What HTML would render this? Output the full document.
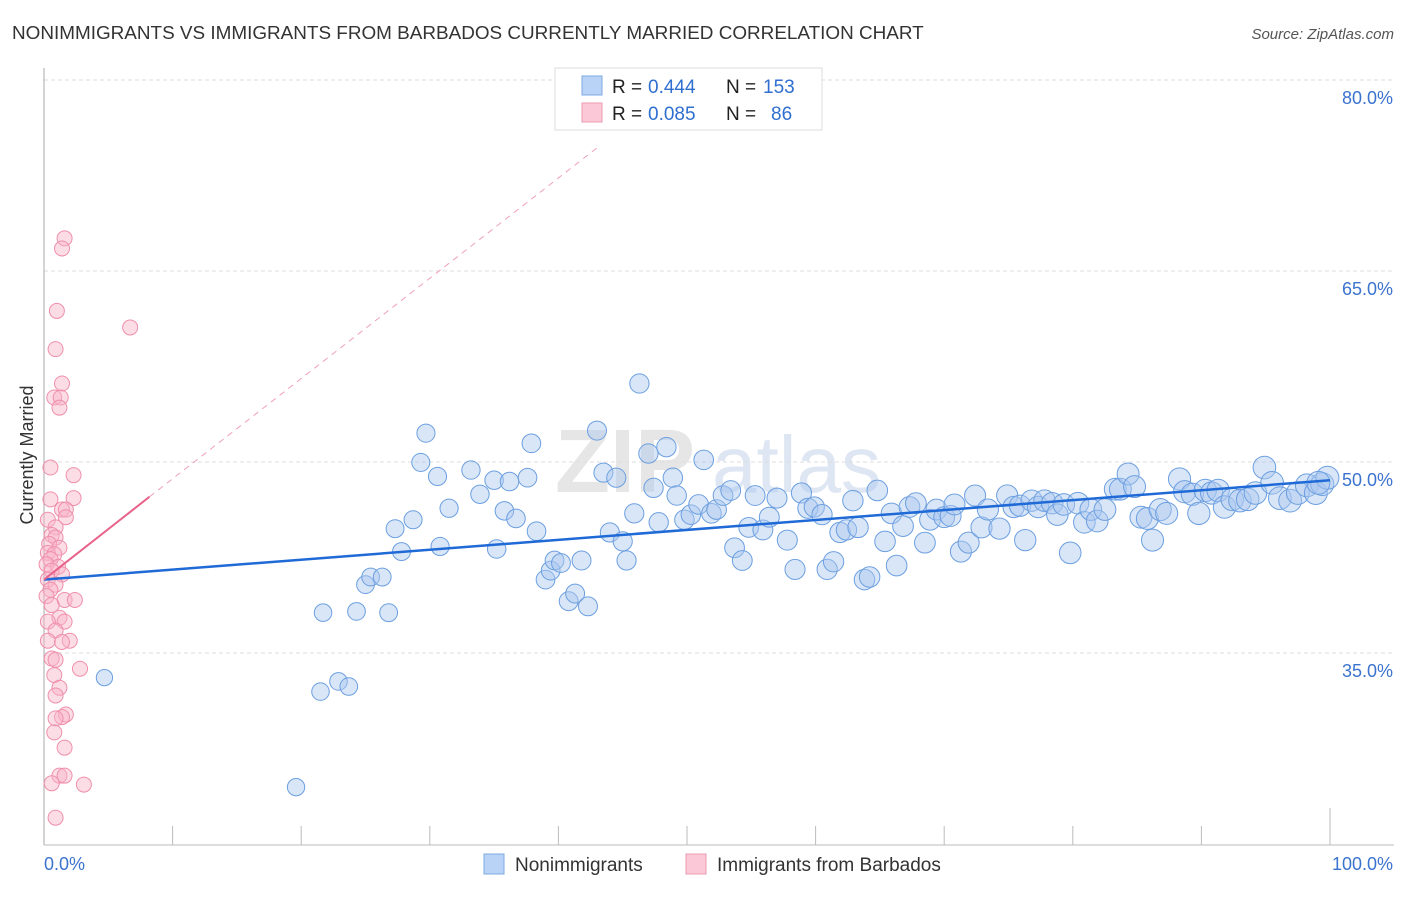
<!DOCTYPE html>
<html><head><meta charset="utf-8"><style>
body{margin:0;background:#fff;font-family:"Liberation Sans",sans-serif}
svg text{font-family:"Liberation Sans",sans-serif}
</style></head><body>
<svg width="1406" height="892">
<text x="12" y="39" font-size="18.9" fill="#333">NONIMMIGRANTS VS IMMIGRANTS FROM BARBADOS CURRENTLY MARRIED CORRELATION CHART</text>
<text x="1394" y="39" font-size="15" fill="#555" text-anchor="end" font-style="italic">Source: ZipAtlas.com</text>
<text x="555" y="492" font-size="90" fill="#e6e6e6" font-family="Liberation Serif" font-weight="bold">ZIP</text>
<text x="712" y="492" font-size="80" fill="#dde6f2">atlas</text>
<g id="grid"></g>
<g id="axes"></g>
<g id="pink"></g>
<g id="blue"></g>
<g id="lines"></g>
<text x="33" y="455" font-size="18" fill="#333" transform="rotate(-90 33 455)" text-anchor="middle">Currently Married</text>
<g>
<rect x="555" y="68" width="267" height="62" fill="#fff" stroke="#ddd"/>
<rect x="582" y="76" width="20" height="19" fill="#b8d3f5" stroke="#7ea9e2"/>
<rect x="582" y="103" width="20" height="19" fill="#fac8d6" stroke="#ee9ab2"/>
<text x="612" y="93" font-size="19" fill="#222">R =</text>
<text x="648" y="93" font-size="19" fill="#2f6fd0">0.444</text>
<text x="726" y="93" font-size="19" fill="#222">N =</text>
<text x="763" y="93" font-size="19" fill="#2f6fd0">153</text>
<text x="612" y="120" font-size="19" fill="#222">R =</text>
<text x="648" y="120" font-size="19" fill="#2f6fd0">0.085</text>
<text x="726" y="120" font-size="19" fill="#222">N =</text>
<text x="771" y="120" font-size="19" fill="#2f6fd0">86</text>
</g>
<g>
<rect x="484" y="854" width="20" height="20" fill="#b8d3f5" stroke="#7ea9e2"/>
<text x="515" y="871" font-size="19" fill="#333">Nonimmigrants</text>
<rect x="686" y="854" width="20" height="20" fill="#fac8d6" stroke="#ee9ab2"/>
<text x="717" y="871" font-size="19" fill="#333">Immigrants from Barbados</text>
</g>
</svg>
<script>
const yTicks=[80,65,50,35];
const yTickLabels=["80.0%","65.0%","50.0%","35.0%"];
const xTicks=[0,10,20,30,40,50,60,70,80,90,100];
const blueX=[4.7,19.6,21.5,22.9,23.7,21.7,24.3,26.8,25.0,25.4,26.3,27.3,27.8,28.7,29.3,29.7,30.6,30.8,31.5,33.2,33.9,35.0,35.2,35.8,36.2,36.7,37.6,37.9,38.3,39.0,39.4,39.7,40.2,40.8,41.3,41.8,42.3,43.0,43.5,44.0,44.5,45.0,45.3,45.9,46.3,47.0,47.4,47.8,48.4,48.9,49.2,49.8,50.3,50.9,51.3,51.9,52.3,52.8,53.4,53.7,54.3,54.8,55.3,55.9,56.4,57.0,57.8,58.4,58.9,59.4,59.9,60.5,60.9,61.4,61.9,62.4,62.9,63.3,63.8,64.2,64.8,65.4,65.9,66.3,66.8,67.3,67.8,68.5,68.9,69.4,70.0,70.5,70.8,71.3,71.9,72.4,72.9,73.4,74.3,74.9,75.4,75.9,76.3,76.8,77.3,77.8,78.4,78.8,79.3,79.8,80.4,80.9,81.4,81.9,82.5,83.3,83.7,84.3,84.8,85.3,85.8,86.2,86.8,87.3,88.3,88.7,89.3,89.8,90.3,90.8,91.3,91.8,92.4,93.0,93.6,94.2,94.9,95.5,96.1,96.9,97.5,98.2,98.9,99.4,99.8,99.1];
const blueY=[34.4,25.8,33.3,34.1,33.7,39.5,39.6,39.5,41.7,42.3,42.3,46.1,44.3,46.8,51.3,53.6,50.2,44.7,47.7,50.7,48.8,49.9,44.5,47.5,49.8,46.9,50.1,52.8,45.9,42.1,42.8,43.6,43.4,40.4,41.0,43.6,40.0,53.8,50.5,45.8,50.1,45.1,43.6,47.3,57.5,52.0,49.3,46.6,52.5,50.1,48.7,46.8,47.2,48.0,51.5,47.3,47.6,48.7,49.1,44.6,43.6,46.2,48.7,46.0,47.0,48.5,45.2,42.9,48.9,47.7,47.8,47.2,42.9,43.5,45.8,46.0,48.3,46.2,42.1,42.3,49.1,45.1,47.3,43.2,46.3,47.8,48.1,45.0,46.8,47.6,47.0,47.1,48.0,44.3,45.0,48.7,46.2,47.6,46.1,48.7,47.8,47.9,45.2,48.3,47.8,48.3,48.1,47.2,48.0,44.2,48.1,46.6,47.6,46.7,47.6,49.2,49.2,50.4,49.4,47.0,46.9,45.2,47.6,47.3,50.0,49.0,48.8,47.3,49.1,48.9,49.1,47.8,48.4,48.3,48.4,48.9,50.9,49.7,48.5,48.3,48.9,49.5,48.9,49.6,50.1,49.7];
const pinkX=[1.6,1.4,1.0,6.7,0.9,1.4,0.8,1.3,1.2,0.5,2.3,2.3,0.5,1.4,1.7,1.7,0.3,0.9,0.6,0.9,0.4,1.2,0.3,0.8,0.5,0.2,1.1,0.6,1.4,0.3,0.9,0.5,0.2,1.6,2.4,0.6,1.2,0.3,1.6,0.9,2.0,0.3,1.4,0.6,0.9,2.8,0.8,1.2,0.9,1.7,1.4,0.9,0.8,1.6,1.2,1.6,3.1,0.6,0.9];
const pinkY=[68.9,68.1,63.2,61.9,60.2,57.5,56.4,56.4,55.6,50.9,50.3,48.5,48.4,47.6,47.6,47.0,46.8,46.2,45.6,45.4,44.9,44.6,44.2,44.1,43.7,43.3,43.1,42.8,42.5,42.1,41.7,41.3,40.8,40.5,40.5,40.1,39.1,38.8,38.8,38.1,37.3,37.3,37.2,35.9,35.8,35.1,34.6,33.6,33.0,31.5,31.3,31.2,30.1,28.9,26.7,26.7,26.0,26.1,23.4];
const blueTrend=[[0,42.1],[100,49.9]];
const pinkTrend=[[0,42.1],[8.2,48.6]];
const pinkDash=[[8.2,48.6],[43,76]];
const NS='http://www.w3.org/2000/svg';
const xs=v=>44+v*12.86;
const ys=v=>97+(80-v)*12.733;
function mk(t,a,p){const e=document.createElementNS(NS,t);for(const k in a)e.setAttribute(k,a[k]);p.appendChild(e);return e;}
const grid=document.getElementById('grid'),axes=document.getElementById('axes');
yTicks.forEach((t,i)=>{
 const g=mk('line',{x1:44,x2:1394,y1:ys(t)-17,y2:ys(t)-17,stroke:'#ddd','stroke-dasharray':'4 3'},grid);
 
 
 const l=mk('text',{x:1393,y:ys(t)+7,'font-size':18,fill:'#3b73cf','text-anchor':'end'},axes);
 l.textContent=yTickLabels[i];
 
 
});
const ya=mk('line',{x1:44,x2:44,y1:68,y2:845,stroke:'#aaa'},axes);


const xa=mk('line',{x1:44,x2:1394,y1:845,y2:845,stroke:'#bbb'},axes);


xTicks.forEach(t=>{if(t===0)return;const tk=mk('line',{x1:xs(t),x2:xs(t),y1:t===100?808:826,y2:845,stroke:'#bbb'},axes);
 
 });
[['0.0%',44,'start'],['100.0%',1393,'end']].forEach(a=>{const l=mk('text',{x:a[1],y:870,'font-size':18,fill:'#3b73cf','text-anchor':a[2]},axes);l.textContent=a[0];
 
 });
const pg=document.getElementById('pink');
pinkX.forEach((x,i)=>{const c=mk('circle',{cx:xs(x),cy:ys(pinkY[i]),r:7.5,fill:'rgba(248,180,200,0.45)',stroke:'#ef8fab','stroke-width':1},pg);
 
 });
const bg=document.getElementById('blue');
blueX.forEach((x,i)=>{const c=mk('circle',{cx:xs(x),cy:ys(blueY[i]),r:8+x*0.035,fill:'rgba(170,200,240,0.45)',stroke:'#6c9fe0','stroke-width':1},bg);
 
 });
const lg=document.getElementById('lines');
const d=mk('line',{x1:xs(pinkDash[0][0]),y1:ys(pinkDash[0][1]),x2:xs(pinkDash[1][0]),y2:ys(pinkDash[1][1]),stroke:'#f0a0b8','stroke-dasharray':'6 5'},lg);


const bt=mk('line',{x1:xs(blueTrend[0][0]),y1:ys(blueTrend[0][1]),x2:xs(blueTrend[1][0]),y2:ys(blueTrend[1][1]),stroke:'#1f6ad6','stroke-width':2.5},lg);


const pt=mk('line',{x1:xs(pinkTrend[0][0]),y1:ys(pinkTrend[0][1]),x2:xs(pinkTrend[1][0]),y2:ys(pinkTrend[1][1]),stroke:'#e8628a','stroke-width':2},lg);


</script>
</body></html>
